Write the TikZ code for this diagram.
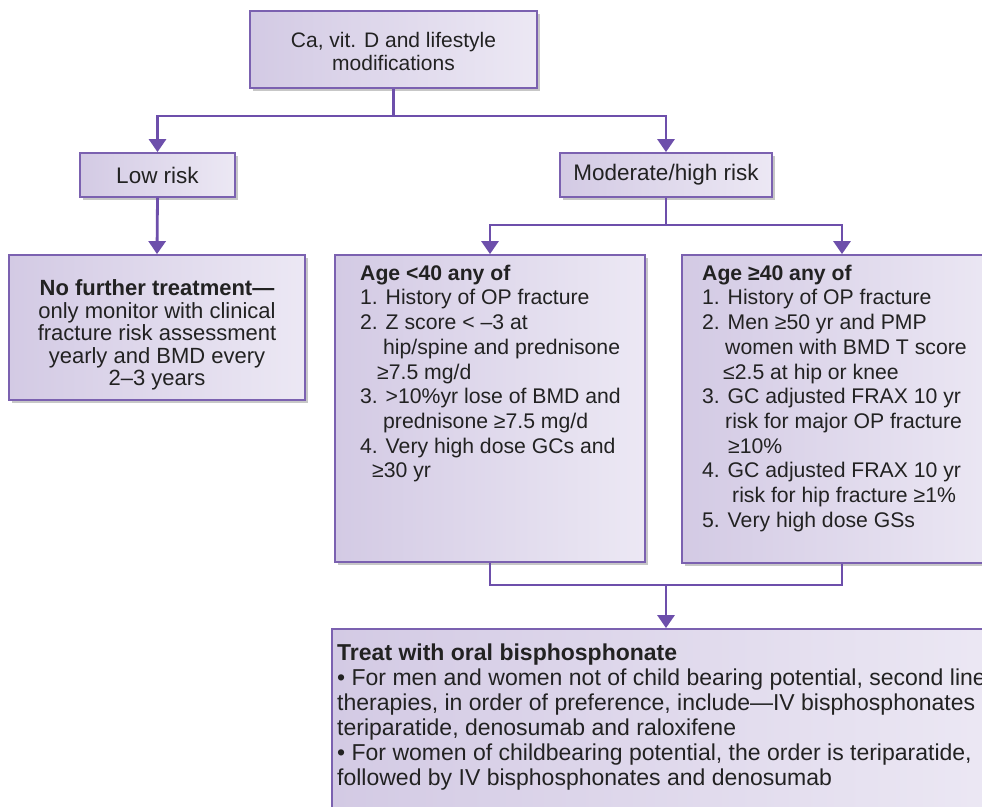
\documentclass[tikz,border=0pt]{standalone}
\usepackage{fontspec}
\setmainfont{Liberation Sans}
\usetikzlibrary{arrows.meta,shadows}
\definecolor{bord}{HTML}{7B61B0}
\definecolor{lnc}{HTML}{6D4FAB}
\definecolor{lavA}{HTML}{D3CAE4}
\definecolor{lavB}{HTML}{ECE8F4}
\definecolor{txt}{HTML}{222222}
\begin{document}
\begin{tikzpicture}[x=1pt,y=-1pt,
  box/.style={draw=bord, line width=1.8pt, left color=lavA, right color=lavB,
    drop shadow={shadow xshift=2.5pt, shadow yshift=-2.5pt, opacity=0.22, fill=black},
    inner sep=0pt, text=txt},
  txtnode/.style={inner sep=0pt, text=txt},
  ln/.style={draw=lnc, line width=2.8pt},
  arr/.style={ln, -{Triangle[width=17pt,length=13pt]}},
  fA/.style={font=\fontsize{21}{23}\selectfont},
  fB/.style={font=\fontsize{22.5}{25}\selectfont},
  fC/.style={font=\fontsize{22}{22.5}\selectfont},
  fD/.style={font=\fontsize{21.2}{24.7}\selectfont},
  fE/.style={font=\fontsize{23}{25}\selectfont}
]
\useasboundingbox (0,0) rectangle (982,806);
\clip (0,0) rectangle (982,806);
\fill[white] (0,0) rectangle (982,806);

% boxes
\node[box, minimum width=287pt, minimum height=77pt] (top) at (393.5,49.5) {};
\node[txtnode, fA, align=center, anchor=north] (topt) at (393.5,31.7) {Ca, vit. D and lifestyle\\modifications};

\node[box, fB, minimum width=155pt, minimum height=44pt] (low) at (157.5,175) {Low risk};
\node[box, fB, minimum width=212pt, minimum height=44pt] (mod) at (666,175) {Moderate/high risk};

\node[box, minimum width=296pt, minimum height=145pt] (nf) at (157,327.5) {};
\node[txtnode, fC, align=center, anchor=north] (nft) at (157,279.5)
  {\textbf{No further treatment—}\\only monitor with clinical\\fracture risk assessment\\yearly and BMD every\\2–3 years};

\node[box, minimum width=310pt, minimum height=307pt] (ml) at (490,408.5) {};
\node[txtnode, fD, align=left, anchor=north west] (mlt) at (360,264.7)
  {\textbf{Age <40 any of}\\
   1. History of OP fracture\\
   2. Z score < –3 at\\
   \hspace*{23pt}hip/spine and prednisone\\
   \hspace*{17pt}≥7.5 mg/d\\
   3. >10\%yr lose of BMD and\\
   \hspace*{23pt}prednisone ≥7.5 mg/d\\
   4. Very high dose GCs and\\
   \hspace*{12pt}≥30 yr};

\node[box, minimum width=320pt, minimum height=308pt] (mr) at (842,409) {};
\node[txtnode, fD, align=left, anchor=north west] (mrt) at (702,264.7)
  {\textbf{Age ≥40 any of}\\
   1. History of OP fracture\\
   2. Men ≥50 yr and PMP\\
   \hspace*{23pt}women with BMD T score\\
   \hspace*{21pt}≤2.5 at hip or knee\\
   3. GC adjusted FRAX 10 yr\\
   \hspace*{23pt}risk for major OP fracture\\
   \hspace*{26pt}≥10\%\\
   4. GC adjusted FRAX 10 yr\\
   \hspace*{30pt}risk for hip fracture ≥1\%\\
   5. Very high dose GSs};

\node[box, minimum width=668pt, minimum height=220pt] (bt) at (666,739) {};
\node[txtnode, fE, align=left, anchor=north west] (btt) at (337,643.5)
  {\textbf{Treat with oral bisphosphonate}\\
   • For men and women not of child bearing potential, second line\\
   therapies, in order of preference, include—IV bisphosphonates\\
   teriparatide, denosumab and raloxifene\\
   • For women of childbearing potential, the order is teriparatide,\\
   followed by IV bisphosphonates and denosumab};

% connectors
\coordinate (j1) at (393.5,116);
\coordinate (j2) at (666,225);
\coordinate (j3) at (666,585);
\draw[ln] (top.south) -- (j1);
\draw[arr] (j1) -| (low.north);
\draw[arr] (j1) -| (mod.north);
\draw[arr] (low.south) -- (nf.north);
\draw[ln] (mod.south) -- (j2);
\draw[arr] (j2) -| (ml.north);
\draw[arr] (j2) -| (mr.north);
\draw[ln] (ml.south) |- (j3);
\draw[ln] (mr.south) |- (j3);
\draw[arr] (j3) -- (bt.north);
\end{tikzpicture}
\end{document}
